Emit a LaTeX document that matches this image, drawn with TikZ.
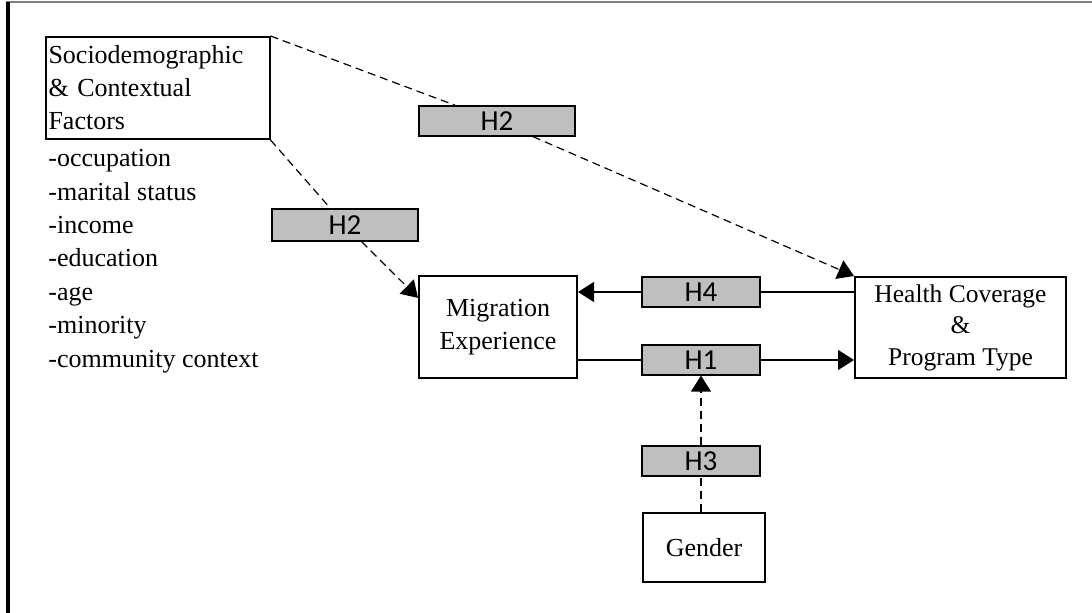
\documentclass[tikz,border=0pt]{standalone}
\usepackage{fontspec}
\setmainfont{Liberation Serif}
\newfontfamily\hypfont{Carlito}
\usetikzlibrary{arrows.meta}
\tikzset{
  factorbox/.style={draw, line width=1pt, fill=white, align=center, inner sep=1pt},
  hypbox/.style={draw, line width=0.6pt, fill=black!25, minimum width=59pt, minimum height=15pt, inner sep=0pt, font=\hypfont\fontsize{14.5}{16}\selectfont},
  plain/.style={line width=0.6pt},
  link/.style={plain, -{Triangle[length=8pt,width=10pt]}},
  dplain/.style={plain, dash pattern=on 4pt off 2.5pt},
  dlink/.style={link, dash pattern=on 4pt off 2.5pt}
}
\begin{document}
\begin{tikzpicture}[x=0.5pt,y=-0.5pt,font=\fontsize{13}{16.5}\selectfont]
\useasboundingbox (0,0) rectangle (1092,613);
% frame
\draw[gray, line width=1pt] (6,2) -- (1092,2);
\draw[line width=2pt] (8,2) -- (8,613);
% factors
\node[factorbox, align=left, text width=109pt, inner xsep=1.5pt, minimum height=51pt] (socio) at (157.5,88) {Sociodemographic\\ \& Contextual\\ Factors};
\node[anchor=north west, align=left, inner sep=0pt, font=\fontsize{13}{16.7}\selectfont] (items) at (48,149) {-occupation\\ -marital status\\ -income\\ -education\\ -age\\ -minority\\ -community context};
\node[factorbox, minimum width=79pt, minimum height=51pt] (mig) at (498,327) {Migration\\ Experience};
\node[factorbox, minimum width=105.5pt, minimum height=50.5pt, font=\fontsize{12.75}{15.75}\selectfont] (health) at (960.5,327.5) {Health Coverage\\ \&\\ Program Type};
\node[factorbox, minimum width=61pt, minimum height=34.5pt] (gender) at (704,547.5) {Gender};
% hypotheses
\node[hypbox, minimum width=78pt] (h2a) at (497,121) {H2};
\node[hypbox, minimum width=73pt, minimum height=16pt] (h2b) at (345,225) {H2};
\node[hypbox] (h4) at (701,292) {H4};
\node[hypbox] (h1) at (701,360) {H1};
\node[hypbox] (h3) at (701,461) {H3};
% links
\draw[plain] (h4.east -| health.west) -- (h4.east);
\draw[link] (h4.west) -- (h4.west -| mig.east);
\draw[plain] (h1.west -| mig.east) -- (h1.west);
\draw[link] (h1.east) -- (h1.east -| health.west);
\draw[dplain] (h3.south |- gender.north) -- (h3.south);
\draw[dlink] (h3.north) -- (h1.south);
\draw[dplain] (socio.north east) -- (h2a);
\draw[dlink] (h2a) -- (health.north west);
\draw[dplain] (socio.south east) -- (h2b);
\draw[dlink] (h2b) -- (mig.160);
\end{tikzpicture}
\end{document}
